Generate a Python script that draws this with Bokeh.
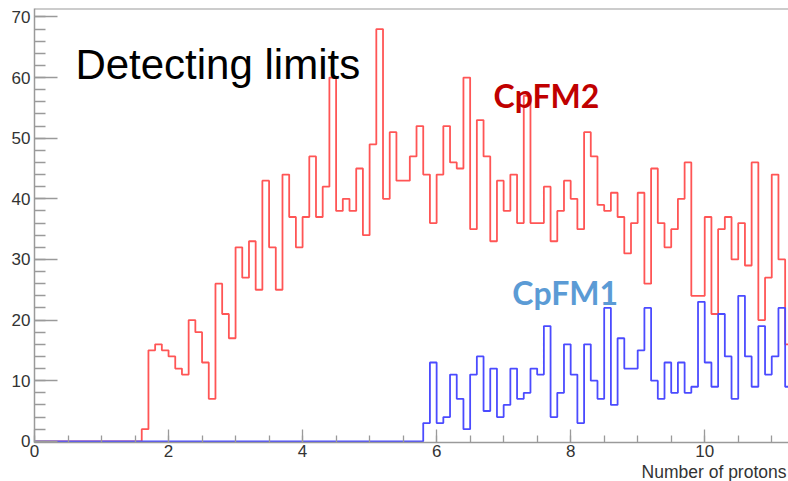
from bokeh.plotting import figure
from bokeh.models import Range1d, FixedTicker, Label, Span, Title
from bokeh.embed import file_html
from bokeh.resources import INLINE

# ---- data -------------------------------------------------------------
bin_width = 0.1
cpfm2_start = 1.6   # first non-empty bin of CpFM2
cpfm1_start = 5.8   # first non-empty bin of CpFM1

cpfm2_counts = [2, 15, 16, 15, 14, 12, 11, 20, 18, 13, 7, 26, 21, 17, 32, 27, 33, 25, 43,
                32, 25, 44, 37, 32, 37, 47, 37, 42, 60, 38, 40, 38, 45, 34, 49, 68, 40, 51, 43,
                43, 47, 52, 44, 36, 44, 52, 46, 45, 60, 35, 53, 47, 33, 43, 38, 44, 36, 57, 36,
                36, 42, 33, 38, 43, 40, 35, 51, 47, 39, 38, 41, 37, 31, 36, 41, 26, 45, 36, 32,
                35, 40, 46, 24, 24, 37, 21, 35, 37, 30, 36, 29, 46, 20, 27, 44, 30, 16]

cpfm1_counts = [3, 13, 3, 4, 11, 7, 2, 11, 14, 5, 12, 4, 6, 12, 7, 8, 12, 11, 19, 4, 8, 16,
                11, 3, 16, 10, 7, 22, 6, 17, 12, 12, 15, 22, 10, 7, 13, 8, 13, 8, 9, 23, 13, 9,
                21, 14, 7, 24, 14, 9, 19, 11, 14, 22, 9]

x_ticks = [0, 2, 4, 6, 8, 10]
y_ticks = [0, 10, 20, 30, 40, 50, 60, 70]
x_title = "Number of protons"
title_text = "Detecting limits"
name2 = "CpFM2"
name1 = "CpFM1"


def hist_steps(start, counts):
    xs = [0.0] + [round(start + bin_width * i, 3) for i in range(len(counts) + 1)]
    ys = [0] + list(counts) + [counts[-1]]
    return xs, ys


X_END = 11.25
Y_START = -0.2
Y_END = 71.4

p = figure(width=788, height=481, output_backend="svg", toolbar_location=None,
           x_range=Range1d(0, X_END), y_range=Range1d(Y_START, Y_END),
           min_border_left=34, min_border_right=0, min_border_top=8, min_border_bottom=0)
p.outline_line_color = None
p.background_fill_color = "white"
p.border_fill_color = "white"
p.xgrid.visible = False
p.ygrid.visible = False

rx, ry = hist_steps(cpfm2_start, cpfm2_counts)
bx, by = hist_steps(cpfm1_start, cpfm1_counts)
p.step(rx, ry, mode="after", line_color="#ff5555", line_width=1.8)
p.step(bx, by, mode="after", line_color="#4b4bff", line_width=1.8)

axis_grey = "#9a9a9a"
for ax in (p.xaxis[0], p.yaxis[0]):
    ax.axis_line_color = axis_grey
    ax.axis_line_width = 1.5
    ax.major_tick_line_color = axis_grey
    ax.minor_tick_line_color = axis_grey
    ax.major_tick_line_width = 1.3
    ax.minor_tick_line_width = 1.3
    ax.major_tick_out = 0
    ax.minor_tick_out = 0
    ax.major_label_text_font = "Liberation Sans"
    ax.major_label_text_font_size = "17px"
    ax.major_label_text_color = "#333333"

p.xaxis.ticker = FixedTicker(ticks=x_ticks, minor_ticks=[i * 0.5 for i in range(23)])
p.yaxis.ticker = FixedTicker(ticks=y_ticks, minor_ticks=[i * 2 for i in range(36)])
p.xaxis.major_tick_in = 13
p.xaxis.minor_tick_in = 7
p.yaxis.major_tick_in = 23
p.yaxis.minor_tick_in = 11
p.xaxis.major_label_standoff = 2
p.yaxis.major_label_standoff = 4

# x-axis title, right aligned under the axis
p.add_layout(Title(text=x_title, align="right", text_font="Liberation Sans",
                   text_font_size="17.5px", text_font_style="normal",
                   text_color="#333333", standoff=0, offset=2), "below")

# top frame line
p.add_layout(Span(location=Y_END, dimension="width", line_color=axis_grey, line_width=2))

p.add_layout(Label(x=0.61, y=62.2, text=title_text, text_font="Liberation Sans",
                   text_font_size="42px", text_color="black", text_baseline="alphabetic"))
p.add_layout(Label(x=6.85, y=57.0, text=name2, text_font="Lato", text_font_style="bold",
                   text_font_size="32px", text_color="#c00000", text_baseline="alphabetic"))
p.add_layout(Label(x=7.13, y=24.6, text=name1, text_font="Lato", text_font_style="bold",
                   text_font_size="32px", text_color="#5b9bd5", text_baseline="alphabetic"))

open("out.html", "w").write(file_html(p, INLINE))
